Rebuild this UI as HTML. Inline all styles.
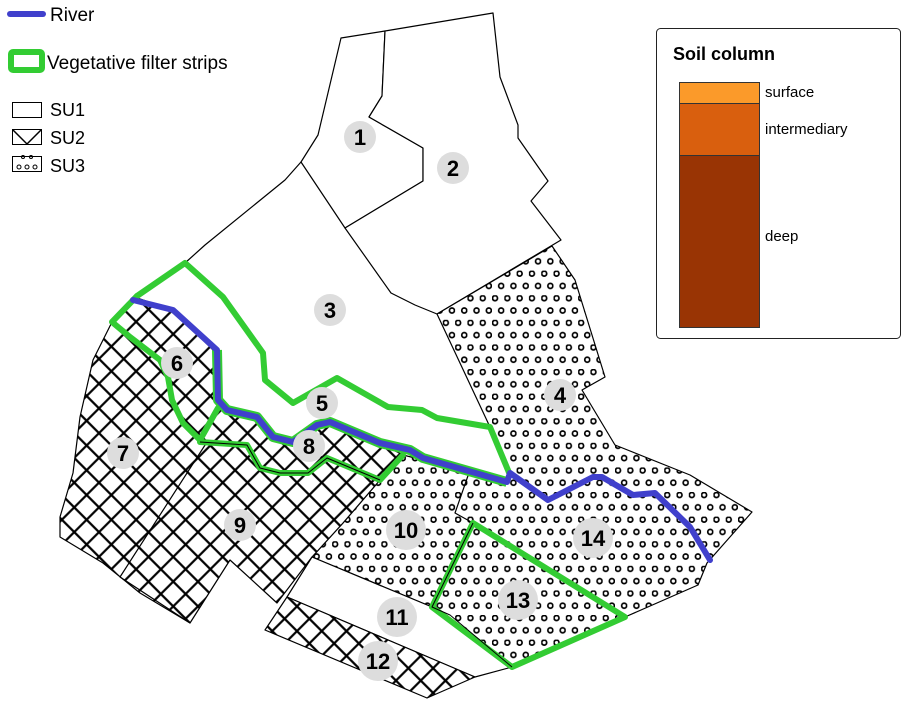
<!DOCTYPE html>
<html><head><meta charset="utf-8"><style>
html,body{margin:0;padding:0;background:#fff;}
svg{display:block;font-family:"Liberation Sans",sans-serif;}
.lab circle{fill:#dddddd;}
.lab text{font-weight:bold;font-size:22px;text-anchor:middle;fill:#000;}
</style></head><body>
<svg width="909" height="706" viewBox="0 0 909 706" xmlns="http://www.w3.org/2000/svg">
<defs>
<pattern id="hatch" width="17.5" height="17.5" patternUnits="userSpaceOnUse" patternTransform="rotate(45)">
<rect width="17.5" height="17.5" fill="#fff"/>
<line x1="0" y1="8.75" x2="17.5" y2="8.75" stroke="#000" stroke-width="2.2"/>
<line x1="8.75" y1="0" x2="8.75" y2="17.5" stroke="#000" stroke-width="2.2"/>
</pattern>
<pattern id="dots" width="12.3" height="24.6" patternUnits="userSpaceOnUse">
<rect width="12.3" height="24.6" fill="#fff"/>
<circle cx="3" cy="3" r="2.5" fill="none" stroke="#000" stroke-width="1.7"/>
<circle cx="9.15" cy="15.3" r="2.5" fill="none" stroke="#000" stroke-width="1.7"/>
</pattern>
</defs>
<g stroke="#000" stroke-width="1.2" stroke-linejoin="round">
<polygon fill="#fff" points="341,38 385,31 382,96 369,117 423,148 423,181 345,228 301,162 318,135"/>
<polygon fill="#fff" points="385,31 493,13 500,77 518,125 518,138 548,181 531,201 561,240 437,314 415,305 391,293 345,228 423,181 423,148 369,117 382,96"/>
<polyline fill="none" points="301,162 285,180 205,245 185,263"/>
<polygon fill="url(#dots)" points="437,314 552,246 575,280 605,377 582,390 615,445 690,475 752,512 707,563 698,585 625,617 512,667 432,607 312,557 343,523 380,480 403,455 423,460 470,470 508,482 508,475 490,427"/>
<polygon fill="url(#hatch)" points="137,298 173,310 217,350 218,400 227,410 257,417 273,437 293,442 317,425 330,422 380,443 403,455 380,480 343,523 312,557 277,603 230,560 190,623 140,593 103,563 60,537 60,517 73,473 80,417 93,360 112,322"/>
<polygon fill="#fff" points="287,597 312,557 432,607 512,667 475,677"/>
<polygon fill="url(#hatch)" points="265,630 287,597 475,677 427,698"/>
<polyline fill="none" points="207,442 120,577 190,623"/>
<polyline fill="none" points="470,470 455,513 473,523"/>
</g>
<g fill="none" stroke="#33cc33" stroke-width="6" stroke-linejoin="round" stroke-linecap="round">
<polyline points="137,296 185,263 223,297 263,353 265,380 293,403 337,378 388,407 422,410 437,418 490,427 510,475"/>
<polyline points="137,296 112,322 130,337 160,360 168,377 172,400 183,423 200,440 218,408"/>
<polyline points="200,442 247,445 260,468 280,473 308,473 327,458 380,480 403,455"/>
<polygon points="473,523 625,617 512,667 432,607"/>
</g>
<g fill="none" stroke="#33cc33" stroke-width="10" stroke-linejoin="round">
<polyline points="217,350 218,400 227,410 257,417 273,437 293,442 317,425 330,422 380,443 410,450 423,458 507,482"/>
</g>
<g fill="none" stroke="#000" stroke-width="1" stroke-linejoin="round">
<polyline points="200,442 247,445 260,468 280,473 308,473 327,458 380,480"/>
<polyline points="473,523 432,607 450,615 512,667"/>
</g>
<polyline fill="none" stroke="#4040cc" stroke-width="6" stroke-linejoin="round" stroke-linecap="round" points="133,300 173,310 217,350 218,400 227,410 257,417 273,437 293,442 317,425 330,422 380,443 410,450 423,458 507,482 510,473 548,500 593,477 602,477 633,495 655,493 690,527 710,560"/>
<g class="lab">
<circle cx="360" cy="137" r="16"/><text x="360" y="145">1</text>
<circle cx="453" cy="168" r="16"/><text x="453" y="176">2</text>
<circle cx="330" cy="310" r="16"/><text x="330" y="318">3</text>
<circle cx="560" cy="395" r="16"/><text x="560" y="403">4</text>
<circle cx="322" cy="403" r="16"/><text x="322" y="411">5</text>
<circle cx="177" cy="363" r="16"/><text x="177" y="371">6</text>
<circle cx="123" cy="453" r="16"/><text x="123" y="461">7</text>
<circle cx="309" cy="446" r="16"/><text x="309" y="454">8</text>
<circle cx="240" cy="525" r="16"/><text x="240" y="533">9</text>
<circle cx="406" cy="530" r="20"/><text x="406" y="538">10</text>
<circle cx="397" cy="617" r="20"/><text x="397" y="625">11</text>
<circle cx="378" cy="661" r="20"/><text x="378" y="669">12</text>
<circle cx="518" cy="600" r="20"/><text x="518" y="608">13</text>
<circle cx="593" cy="538" r="20"/><text x="593" y="546">14</text>
</g>
<line x1="10" y1="14" x2="43" y2="14" stroke="#4040cc" stroke-width="6" stroke-linecap="round"/>
<text x="50" y="21" font-size="19">River</text>
<rect x="11" y="52" width="31" height="18" rx="2" fill="#fff" stroke="#33cc33" stroke-width="6"/>
<text x="47" y="69" font-size="19">Vegetative filter strips</text>
<rect x="12.5" y="102.5" width="29" height="15" fill="#fff" stroke="#000" stroke-width="1"/>
<text x="50" y="116" font-size="18">SU1</text>
<rect x="12.5" y="129.5" width="29" height="15" fill="#fff" stroke="#000" stroke-width="1"/>
<polyline points="13,130 27,144 41,130" fill="none" stroke="#000" stroke-width="1.5"/>
<text x="50" y="144" font-size="18">SU2</text>
<rect x="12.5" y="156.5" width="29" height="15" fill="#fff" stroke="#000" stroke-width="1"/>
<circle cx="19" cy="167" r="2" fill="none" stroke="#000"/><circle cx="27" cy="167" r="2" fill="none" stroke="#000"/><circle cx="35" cy="167" r="2" fill="none" stroke="#000"/>
<circle cx="23" cy="157" r="1.5" fill="none" stroke="#000"/><circle cx="31" cy="157" r="1.5" fill="none" stroke="#000"/>
<text x="50" y="172" font-size="18">SU3</text>
<rect x="656.5" y="28.5" width="244" height="310" rx="4" fill="#fff" stroke="#222" stroke-width="1"/>
<text x="673" y="60" font-size="18" font-weight="bold">Soil column</text>
<rect x="679.5" y="82.5" width="80" height="21" fill="#fb9a2a" stroke="#333" stroke-width="1"/>
<rect x="679.5" y="103.5" width="80" height="52" fill="#d95f0e" stroke="#333" stroke-width="1"/>
<rect x="679.5" y="155.5" width="80" height="172" fill="#993404" stroke="#333" stroke-width="1"/>
<text x="765" y="97" font-size="15">surface</text>
<text x="765" y="134" font-size="15">intermediary</text>
<text x="765" y="241" font-size="15">deep</text>
</svg>
</body></html>
